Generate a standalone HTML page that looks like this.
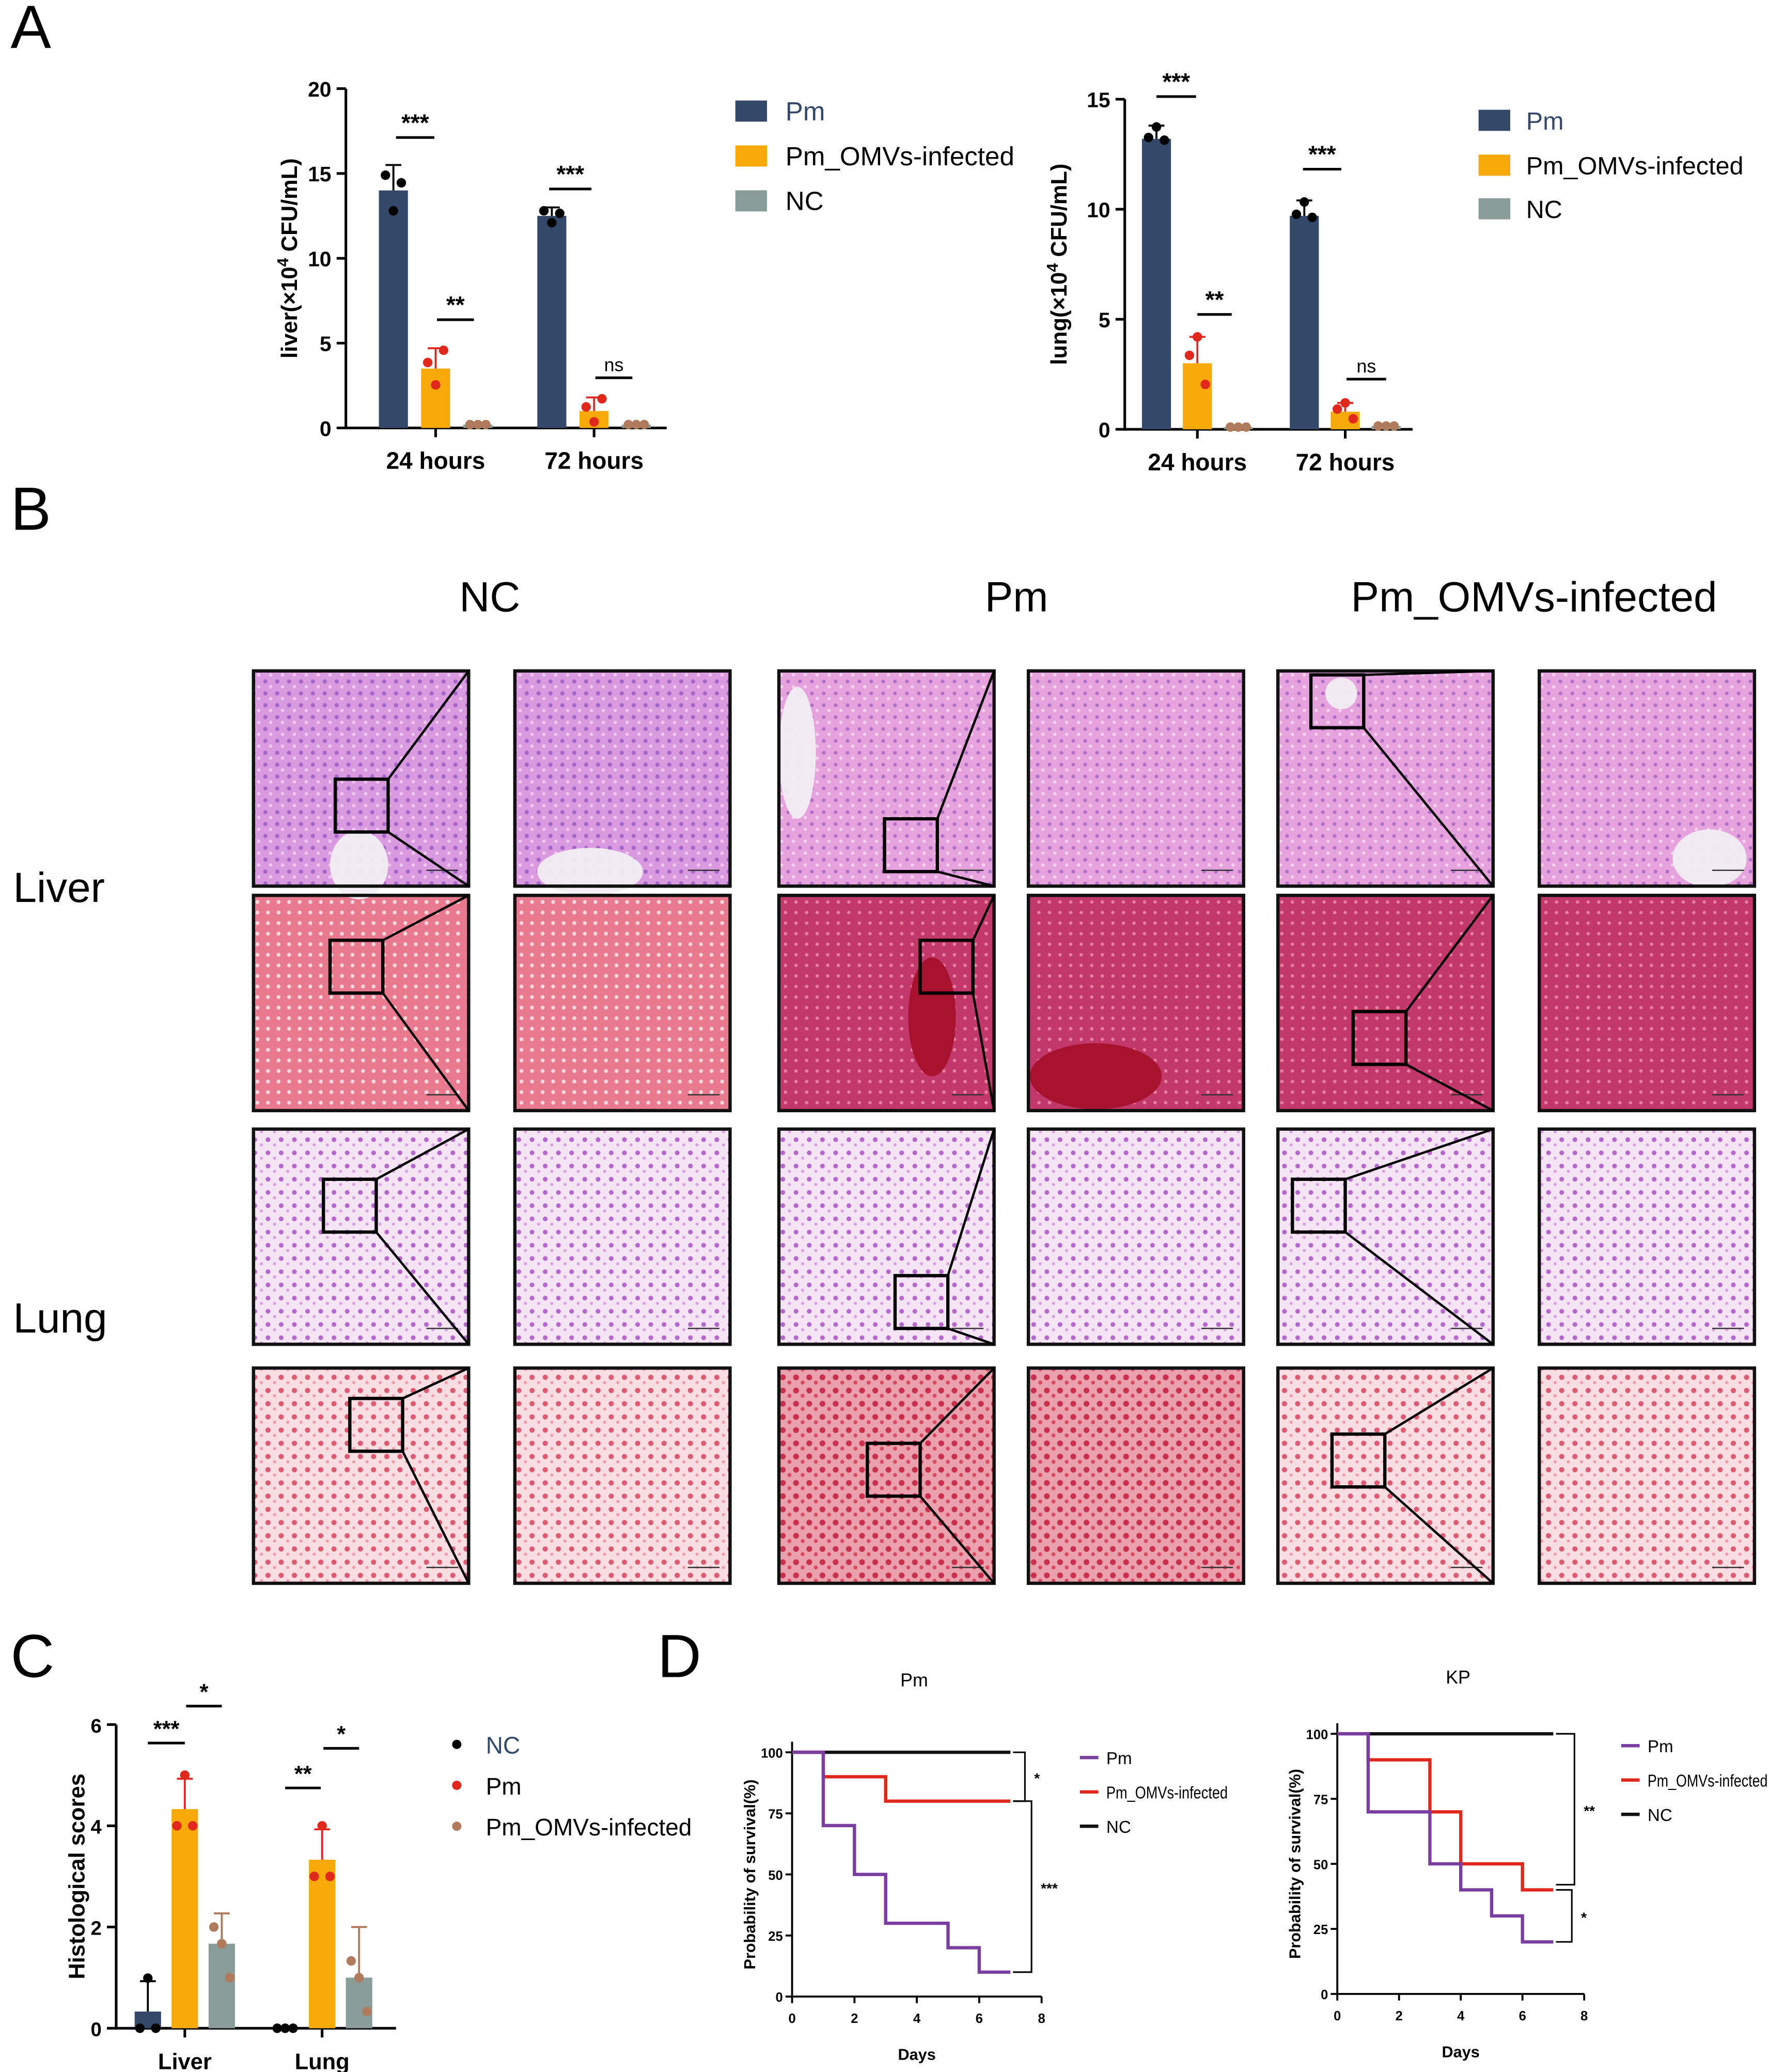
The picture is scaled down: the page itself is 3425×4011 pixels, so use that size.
<!DOCTYPE html>
<html><head><meta charset="utf-8"><style>
html,body{margin:0;padding:0;background:#fff;}
svg{display:block;font-family:"Liberation Sans",Arial,sans-serif;}
</style></head><body>
<svg id="root" xmlns="http://www.w3.org/2000/svg" width="3425" height="4011" viewBox="0 0 1340 1569">
<defs>
<pattern id="p-liv-he" width="9" height="9" patternUnits="userSpaceOnUse"><rect width="9" height="9" fill="#d99ae0"/><circle cx="3" cy="3" r="1.6" fill="#a466c8"/><circle cx="7" cy="7" r="1.3" fill="#f0c8f0"/></pattern>
<pattern id="p-liv-he2" width="9" height="9" patternUnits="userSpaceOnUse"><rect width="9" height="9" fill="#e6a2dc"/><circle cx="3" cy="3" r="1.4" fill="#b070c8"/><circle cx="7" cy="7" r="1.3" fill="#f6d0ee"/></pattern>
<pattern id="p-liv-m" width="8" height="8" patternUnits="userSpaceOnUse"><rect width="8" height="8" fill="#e8798f"/><circle cx="3" cy="3" r="1.5" fill="#fbd6dc"/></pattern>
<pattern id="p-liv-m2" width="8" height="8" patternUnits="userSpaceOnUse"><rect width="8" height="8" fill="#c2386a"/><circle cx="3" cy="3" r="1.3" fill="#e87fa0"/></pattern>
<pattern id="p-lung-he" width="10" height="10" patternUnits="userSpaceOnUse"><rect width="10" height="10" fill="#f4e4f4"/><circle cx="3" cy="3" r="1.8" fill="#b468cc"/><circle cx="8" cy="7" r="1.2" fill="#d8a0e0"/></pattern>
<pattern id="p-lung-m" width="10" height="10" patternUnits="userSpaceOnUse"><rect width="10" height="10" fill="#f8dde2"/><circle cx="3" cy="3" r="2" fill="#dc5a72"/><circle cx="8" cy="7" r="1.2" fill="#ee9aaa"/></pattern>
<pattern id="p-lung-m2" width="10" height="10" patternUnits="userSpaceOnUse"><rect width="10" height="10" fill="#eaa0ad"/><circle cx="3" cy="3" r="2.2" fill="#c8304e"/><circle cx="8" cy="7" r="1.5" fill="#d84a62"/></pattern>
</defs>
<g id="g"></g>
</svg>
<script>
// ---------- data ----------
const cfuGroups = ["24 hours", "72 hours"];
const liverPm = [14.0, 12.5];
const liverOmv = [3.5, 1.0];
const liverNc = [0.2, 0.2];
const liverPmErr = [1.5, 0.5];
const liverOmvErr = [1.2, 0.8];
const liverTicks = [0, 5, 10, 15, 20];
const lungPm = [13.2, 9.7];
const lungOmv = [3.0, 0.8];
const lungNc = [0.1, 0.15];
const lungPmErr = [0.6, 0.7];
const lungOmvErr = [1.2, 0.4];
const lungTicks = [0, 5, 10, 15];
const histoCats = ["Liver", "Lung"];
const histoNc = [0.33, 0];
const histoPm = [4.33, 3.33];
const histoOmv = [1.67, 1.0];
const histoNcErr = [0.6, 0];
const histoPmErr = [0.6, 0.6];
const histoOmvErr = [0.6, 1.0];
const histoTicks = [0, 2, 4, 6];
const survDays = [0, 1, 2, 3, 4, 5, 6, 7];
const pmSurvPm = [100, 70, 50, 30, 30, 20, 10, 10];
const pmSurvOmv = [100, 90, 90, 80, 80, 80, 80, 80];
const pmSurvNc = [100, 100, 100, 100, 100, 100, 100, 100];
const kpSurvPm = [100, 70, 70, 50, 40, 30, 20, 20];
const kpSurvOmv = [100, 90, 90, 70, 50, 50, 40, 40];
const kpSurvNc = [100, 100, 100, 100, 100, 100, 100, 100];
const survYTicks = [0, 25, 50, 75, 100];
const survXTicks = [0, 2, 4, 6, 8];

const NS = "http://www.w3.org/2000/svg";
const G = document.getElementById("g");
function mk(tag, attrs, parent) {
  const e = document.createElementNS(NS, tag);
  for (const k in attrs) e.setAttribute(k, attrs[k]);
  (parent || G).appendChild(e);
  return e;
}
function txt(x, y, s, size, opts, parent) {
  const o = Object.assign({x: x, y: y, "font-size": size, fill: "#000"}, opts || {});
  const t = mk("text", o, parent);
  t.textContent = s;
  return t;
}
const C_PM = "#34496a", C_OMV = "#f7a90c", C_NC = "#8a9c98";

let e;
e = txt(8, 36, "A", 46);  
e = txt(8, 401, "B", 46);  
e = txt(8, 1270, "C", 46);  
e = txt(498, 1270, "D", 46);  

function barChart(cfg) {
  const g = mk("g", {});
  
  
  const y = v => cfg.y0 - (v / cfg.max) * (cfg.y0 - cfg.yTop);
  mk("line", {x1: cfg.x0, y1: cfg.yTop, x2: cfg.x0, y2: cfg.y0 + 1, stroke: "#000", "stroke-width": 2}, g);
  mk("line", {x1: cfg.x0 - 1, y1: cfg.y0, x2: cfg.xEnd, y2: cfg.y0, stroke: "#000", "stroke-width": 2}, g);
  cfg.ticks.forEach(t => {
    mk("line", {x1: cfg.x0 - 7, y1: y(t), x2: cfg.x0, y2: y(t), stroke: "#000", "stroke-width": 2}, g);
    const tl = txt(cfg.x0 - 11, y(t) + 6, String(t), cfg.fs, {"text-anchor": "end", "font-weight": "bold"}, g);
    
  });
  cfg.cats.forEach((c, i) => {
    const cx = cfg.centers[i];
    mk("line", {x1: cx, y1: cfg.y0, x2: cx, y2: cfg.y0 + 7, stroke: "#000", "stroke-width": 2}, g);
    const cl = txt(cx, cfg.y0 + 31, c, cfg.fs + 2, {"text-anchor": "middle", "font-weight": "bold"}, g);
    
    cfg.series.forEach((s, j) => {
      const bx = cx + (j - 1) * cfg.step - cfg.bw / 2;
      const v = s.vals[i];
      const r = mk("rect", {x: bx, y: y(v), width: cfg.bw, height: cfg.y0 - y(v), fill: s.color}, g);
      
      
      const bc = bx + cfg.bw / 2;
      if (s.err && s.err[i] > 0) {
        mk("line", {x1: bc, y1: y(v), x2: bc, y2: y(v + s.err[i]), stroke: s.ecol, "stroke-width": 1.5}, g);
        mk("line", {x1: bc - 6, y1: y(v + s.err[i]), x2: bc + 6, y2: y(v + s.err[i]), stroke: s.ecol, "stroke-width": 1.5}, g);
      }
      const ds = s.dots(v, s.err ? s.err[i] : 0);
      ds.forEach((dv, k) => {
        const d = mk("circle", {cx: bc + (k - 1) * 6, cy: y(dv), r: 3.6, fill: s.dot}, g);
        
      });
    });
  });
  (cfg.sig || []).forEach(sg => {
    mk("line", {x1: sg.x1, y1: sg.y, x2: sg.x2, y2: sg.y, stroke: "#000", "stroke-width": 2}, g);
    const st = txt((sg.x1 + sg.x2) / 2, sg.y - 5, sg.t, sg.t === "ns" ? cfg.fs - 2 : cfg.fs + 2, {"text-anchor": "middle", "font-weight": sg.t === "ns" ? "normal" : "bold"}, g);
    
  });
  const yl = txt(0, 0, "", cfg.yfs || cfg.fs + 2, {"text-anchor": "middle", "font-weight": "bold", transform: "translate(" + cfg.ylx + "," + ((cfg.y0 + cfg.yTop) / 2) + ") rotate(-90)"}, g);
  yl.innerHTML = cfg.ylabel;
  
  return {g: g, y: y};
}
const flat = v => [v, v, v];

barChart({name: "liver-cfu-chart", x0: 262, y0: 324, yTop: 67, max: 20, xEnd: 505, ticks: liverTicks, fs: 16, yfs: 17,
  cats: cfuGroups, centers: [330, 450], step: 32, bw: 22, ylx: 225,
  ylabel: 'liver(×10<tspan baseline-shift="super" font-size="12">4</tspan> CFU/mL)',
  series: [
    {key: "pm", vals: liverPm, err: liverPmErr, color: C_PM, ecol: "#000", dot: "#000", dots: (v, e) => [v + e * 0.6, v - e * 0.8, v + e * 0.3]},
    {key: "omv", vals: liverOmv, err: liverOmvErr, color: C_OMV, ecol: "#e0281c", dot: "#e0281c", dots: (v, e) => [v + e * 0.3, v - e * 0.8, v + e * 0.9]},
    {key: "nc", vals: liverNc, color: C_NC, dot: "#b07a5c", dots: flat}],
  sig: [{x1: 300, x2: 329, y: 104, t: "***"}, {x1: 331, x2: 359, y: 242, t: "**"}, {x1: 416, x2: 448, y: 143, t: "***"}, {x1: 451, x2: 479, y: 286, t: "ns"}]
});
barChart({name: "lung-cfu-chart", x0: 852, y0: 325, yTop: 75, max: 15, xEnd: 1070, ticks: lungTicks, fs: 16, yfs: 17,
  cats: cfuGroups, centers: [907, 1019], step: 31, bw: 22, ylx: 808,
  ylabel: 'lung(×10<tspan baseline-shift="super" font-size="12">4</tspan> CFU/mL)',
  series: [
    {key: "pm", vals: lungPm, err: lungPmErr, color: C_PM, ecol: "#000", dot: "#000", dots: (v, e) => [v + e * 0.1, v + e * 0.9, v - e * 0.1]},
    {key: "omv", vals: lungOmv, err: lungOmvErr, color: C_OMV, ecol: "#e0281c", dot: "#e0281c", dots: (v, e) => [v + e * 0.3, v + e, v - e * 0.8]},
    {key: "nc", vals: lungNc, color: C_NC, dot: "#b07a5c", dots: flat}],
  sig: [{x1: 876, x2: 906, y: 73, t: "***"}, {x1: 907, x2: 933, y: 238, t: "**"}, {x1: 987, x2: 1016, y: 128, t: "***"}, {x1: 1020, x2: 1050, y: 287, t: "ns"}]
});

function legendSq(x, ys, tx, fs) {
  const cols = [C_PM, C_OMV, C_NC], labs = ["Pm", "Pm_OMVs-infected", "NC"];
  const lg = mk("g", {});
  
  
  ys.forEach((yy, i) => {
    const r = mk("rect", {x: x, y: yy - 8, width: 24, height: 16, fill: cols[i]}, lg);
    
    const t = txt(tx, yy + 7, labs[i], fs, {fill: i === 0 ? "#34496a" : "#000"}, lg);
    
  });
}
legendSq(557, [84, 118, 152], 595, 20);
legendSq(1120, [91, 125, 158], 1156, 19);

// ---------- panel B ----------
const colX = [192, 390, 590, 779, 968, 1166];
const rowY = [508, 678, 855, 1036];
const tW = 163, tH = 163;
const fills = [
  ["p-liv-he", "p-liv-he", "p-liv-he2", "p-liv-he2", "p-liv-he2", "p-liv-he2"],
  ["p-liv-m", "p-liv-m", "p-liv-m2", "p-liv-m2", "p-liv-m2", "p-liv-m2"],
  ["p-lung-he", "p-lung-he", "p-lung-he", "p-lung-he", "p-lung-he", "p-lung-he"],
  ["p-lung-m", "p-lung-m", "p-lung-m2", "p-lung-m2", "p-lung-m", "p-lung-m"]];
const boxes = [
  [[62, 82], [80, 112], [25, 3]],
  [[58, 34], [107, 34], [57, 88]],
  [[53, 38], [88, 111], [11, 38]],
  [[73, 23], [67, 57], [41, 50]]];
const titles = [["NC", 371], ["Pm", 770], ["Pm_OMVs-infected", 1162]];
titles.forEach(t => { const h = txt(t[1], 463, t[0], 32, {"text-anchor": "middle"});  });
e = txt(10, 683, "Liver", 32);  
e = txt(10, 1009, "Lung", 32);  
rowY.forEach((ry, r) => {
  colX.forEach((cx, c) => {
    const im = mk("rect", {x: cx, y: ry, width: tW, height: tH, fill: "url(#" + fills[r][c] + ")", stroke: "none"});
    
    
  });
});
[[272, 655, 22, 26], [447, 660, 40, 18], [604, 570, 14, 50], [1295, 650, 28, 22], [1016, 525, 12, 12]].forEach(l => {
  const v = mk("ellipse", {cx: l[0], cy: l[1], rx: l[2], ry: l[3], fill: "#f2eef2", opacity: 0.95});
  
});
[[706, 770, 18, 45], [830, 815, 50, 25]].forEach(l => {
  const v = mk("ellipse", {cx: l[0], cy: l[1], rx: l[2], ry: l[3], fill: "#a8122e"});
  
});
rowY.forEach((ry, r) => {
  colX.forEach((cx, c) => {
    const fr = mk("rect", {x: cx, y: ry, width: tW, height: tH, fill: "none", stroke: "#111", "stroke-width": 2.5});
    
    const sb = mk("line", {x1: cx + tW - 32, y1: ry + tH - 12, x2: cx + tW - 8, y2: ry + tH - 12, stroke: "#333", "stroke-width": 1});
    
    if (c % 2 === 0) {
      const b = boxes[r][c / 2];
      const bx = cx + b[0], by = ry + b[1];
      const zb = mk("rect", {x: bx, y: by, width: 40, height: 40, fill: "none", stroke: "#000", "stroke-width": 2.5});
      
      mk("line", {x1: bx + 40, y1: by, x2: cx + tW, y2: ry, stroke: "#000", "stroke-width": 1.8});
      mk("line", {x1: bx + 40, y1: by + 40, x2: cx + tW, y2: ry + tH, stroke: "#000", "stroke-width": 1.8});
    }
  });
});

// ---------- panel C ----------
barChart({name: "histological-scores-chart", x0: 88, y0: 1536, yTop: 1306, max: 6, xEnd: 300, ticks: histoTicks, fs: 15,
  cats: histoCats, centers: [140, 244], step: 28, bw: 20, ylx: 64, ylabel: "Histological scores",
  series: [
    {key: "nc", vals: histoNc, err: histoNcErr, color: C_PM, ecol: "#000", dot: "#000", dots: (v, e) => v > 0 ? [0, v + e * 1.1, 0] : [0, 0, 0]},
    {key: "pm", vals: histoPm, err: histoPmErr, color: C_OMV, ecol: "#e0281c", dot: "#e0281c", dots: (v, e) => [v - 0.33, v + 0.67, v - 0.33]},
    {key: "omv", vals: histoOmv, err: histoOmvErr, color: C_NC, ecol: "#b07a5c", dot: "#b07a5c", dots: (v, e) => [v + 0.33, v, v - 0.67]}],
  sig: [{x1: 112, x2: 140, y: 1320, t: "***"}, {x1: 141, x2: 168, y: 1292, t: "*"}, {x1: 216, x2: 243, y: 1354, t: "**"}, {x1: 245, x2: 272, y: 1324, t: "*"}]
});
[["NC", "#000", "#34496a"], ["Pm", "#e0281c", "#000"], ["Pm_OMVs-infected", "#b07a5c", "#000"]].forEach((l, i) => {
  const yy = 1321 + i * 31;
  const d = mk("circle", {cx: 346, cy: yy, r: 3.5, fill: l[1]});
  
  const t = txt(368, yy + 7, l[0], 18, {fill: l[2]});
  
});

// ---------- panel D ----------
function survChart(cfg) {
  const g = mk("g", {});
  
  
  const X = d => cfg.x0 + d * (cfg.x8 - cfg.x0) / 8;
  const Y = v => cfg.y0 - v * (cfg.y0 - cfg.y100) / 100;
  txt((cfg.x0 + cfg.x8) / 2 - 2, cfg.titleY, cfg.title, 14, {"text-anchor": "middle"}, g);
  mk("line", {x1: cfg.x0, y1: cfg.y100 - 8, x2: cfg.x0, y2: cfg.y0, stroke: "#000", "stroke-width": 1.5}, g);
  mk("line", {x1: cfg.x0, y1: cfg.y0, x2: cfg.x8, y2: cfg.y0, stroke: "#000", "stroke-width": 1.5}, g);
  survYTicks.forEach(t => {
    mk("line", {x1: cfg.x0 - 5, y1: Y(t), x2: cfg.x0, y2: Y(t), stroke: "#000", "stroke-width": 1.5}, g);
    txt(cfg.x0 - 7, Y(t) + 4, String(t), 10, {"text-anchor": "end", "font-weight": "bold"}, g);
  });
  survXTicks.forEach(t => {
    mk("line", {x1: X(t), y1: cfg.y0, x2: X(t), y2: cfg.y0 + 5, stroke: "#000", "stroke-width": 1.5}, g);
    txt(X(t), cfg.y0 + 20, String(t), 10, {"text-anchor": "middle", "font-weight": "bold"}, g);
  });
  txt((cfg.x0 + cfg.x8) / 2, cfg.y0 + 48, "Days", 12, {"text-anchor": "middle", "font-weight": "bold"}, g);
  txt(0, 0, "Probability of survival(%)", 12, {"text-anchor": "middle", "font-weight": "bold", transform: "translate(" + (cfg.x0 - 28) + "," + ((cfg.y0 + cfg.y100) / 2) + ") rotate(-90)"}, g);
  const series = [["nc", cfg.nc, "#111"], ["omv", cfg.omv, "#e0281c"], ["pm", cfg.pm, "#7a3ea0"]];
  series.forEach(s => {
    let d = "M" + X(survDays[0]) + "," + Y(s[1][0]);
    for (let i = 1; i < survDays.length; i++) d += " H" + X(survDays[i]) + " V" + Y(s[1][i]);
    const p = mk("path", {d: d, fill: "none", stroke: s[2], "stroke-width": 2.5}, g);
    
    
  });
  cfg.br.forEach(b => {
    const bx = X(7) + b.dx;
    mk("path", {d: "M" + (X(7) + 2) + "," + Y(b.a) + " H" + bx + " V" + Y(b.b) + " H" + (X(7) + 2), fill: "none", stroke: "#000", "stroke-width": 1.2}, g);
    txt(bx + 7, (Y(b.a) + Y(b.b)) / 2 + 5, b.t, 11, {"font-weight": "bold"}, g);
  });
  [["Pm", "#7a3ea0"], ["Pm_OMVs-infected", "#e0281c"], ["NC", "#111"]].forEach((l, i) => {
    const yy = cfg.ly + i * 26;
    mk("line", {x1: cfg.lx, y1: yy, x2: cfg.lx + 14, y2: yy, stroke: l[1], "stroke-width": 2.5}, g);
    const lt = txt(cfg.lx + 20, yy + 5, l[0], 13, {}, g);
    if (l[0].length > 4) { lt.setAttribute("textLength", cfg.lw); lt.setAttribute("lengthAdjust", "spacingAndGlyphs"); }
    
  });
}
survChart({name: "survival-chart-pm", title: "Pm", titleY: 1277, x0: 600, x8: 789, y0: 1512, y100: 1327,
  pm: pmSurvPm, omv: pmSurvOmv, nc: pmSurvNc, lx: 818, ly: 1331, lw: 92,
  br: [{a: 100, b: 80, dx: 11, t: "*"}, {a: 80, b: 10, dx: 16, t: "***"}]});
survChart({name: "survival-chart-kp", title: "KP", titleY: 1275, x0: 1013, x8: 1200, y0: 1510, y100: 1313,
  pm: kpSurvPm, omv: kpSurvOmv, nc: kpSurvNc, lx: 1228, ly: 1322, lw: 91,
  br: [{a: 100, b: 42, dx: 16, t: "**"}, {a: 40, b: 20, dx: 14, t: "*"}]});
</script>
</body></html>
